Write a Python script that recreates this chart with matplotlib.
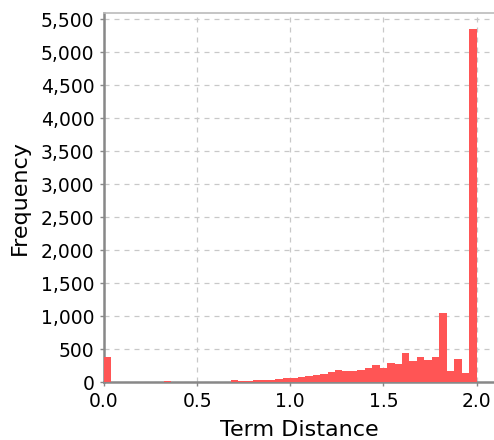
import numpy as np
import matplotlib.pyplot as plt

# histogram of term distance, 50 bins of width 0.04 from 0 to 2
bin_edges = np.linspace(0.0, 2.0, 51)
counts = [390, 3, 3, 3, 3, 3, 3, 3, 20, 3,
          3, 3, 3, 12, 12, 12, 15, 32, 20, 20,
          36, 36, 36, 57, 62, 70, 82, 98, 113, 129,
          160, 190, 180, 180, 196, 221, 268, 221, 299, 283,
          453, 320, 391, 345, 391, 1046, 180, 360, 144, 5350]

xticks = [0.0, 0.5, 1.0, 1.5, 2.0]
yticks = list(range(0, 6000, 500))

fig = plt.figure(figsize=(4.94, 4.4), dpi=100)
ax = fig.add_axes([0.2105, 0.1307, 0.79, 0.84])

ax.bar(bin_edges[:-1], counts, width=np.diff(bin_edges), align='edge',
       color='#FF5555', linewidth=0, zorder=3)

ax.set_xlim(0.0, 2.095)
ax.set_ylim(0, 5600)
ax.set_xticks(xticks)
ax.set_xticklabels([f"{t:.1f}" for t in xticks])
ax.set_yticks(yticks)
ax.set_yticklabels([f"{t:,}" for t in yticks])

ax.grid(True, color='#c8c8c8', linestyle=(0, (4, 4)), linewidth=0.9, zorder=0)
for side in ['left', 'bottom']:
    ax.spines[side].set_color('#888888')
    ax.spines[side].set_linewidth(1.8)
ax.spines['top'].set_color('#bbbbbb')
ax.spines['top'].set_linewidth(1.2)
ax.spines['right'].set_visible(False)
ax.tick_params(axis='both', colors='#888888', labelcolor='black',
               labelsize=13.5, length=3, width=1, pad=4)

ax.set_xlabel('Term Distance', fontsize=16, labelpad=6)
ax.set_ylabel('Frequency', fontsize=16, labelpad=8)

fig.savefig('out.png', dpi=100)
